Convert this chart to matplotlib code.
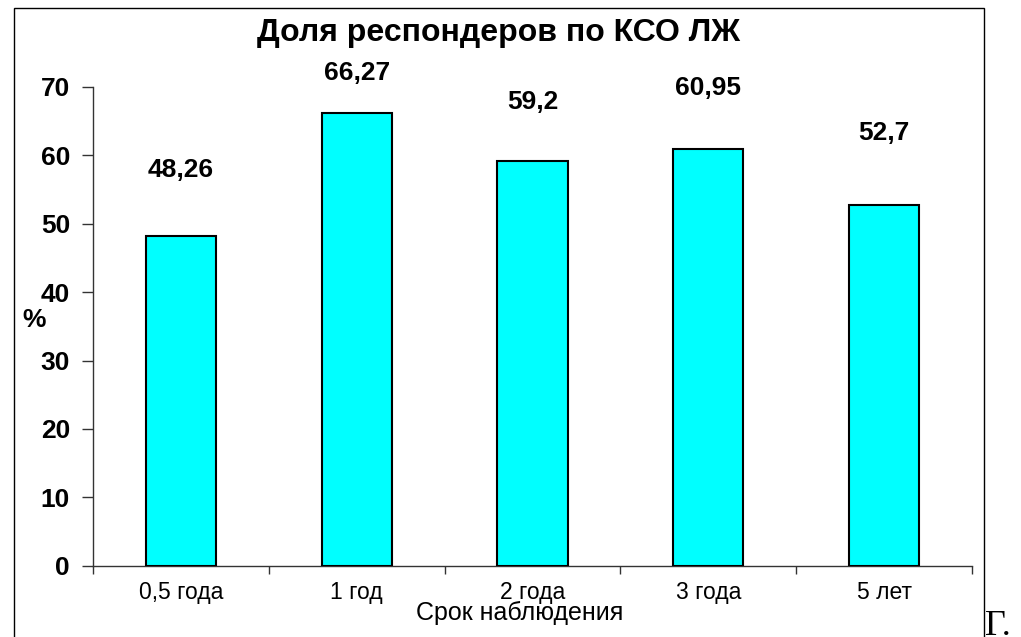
import matplotlib
matplotlib.use("Agg")
import matplotlib.pyplot as plt
from matplotlib.patches import Rectangle

plt.rcParams['font.family'] = ['Liberation Sans', 'DejaVu Sans']

# Data
categories = ["0,5 года", "1 год", "2 года", "3 года", "5 лет"]
values = [48.26, 66.27, 59.2, 60.95, 52.7]
value_labels = ["48,26", "66,27", "59,2", "60,95", "52,7"]
y_ticks = [0, 10, 20, 30, 40, 50, 60, 70]

# Label placement above each bar (in data units)
label_offsets = [9.6, 5.8, 8.6, 8.9, 10.6]

W, H = 1021, 637
fig = plt.figure(figsize=(W / 100, H / 100), dpi=100)
fig.patch.set_facecolor("white")

# Axes region in pixel terms
ax_left, ax_right, ax_top, ax_bottom = 93, 972, 87, 565.7
ax = fig.add_axes([ax_left / W, 1 - ax_bottom / H,
                   (ax_right - ax_left) / W, (ax_bottom - ax_top) / H])

x = list(range(len(categories)))
ax.bar(x, values, width=0.4, color="#00FFFF", edgecolor="black", linewidth=1.5, zorder=3)

for xi, v, lab, off in zip(x, values, value_labels, label_offsets):
    ax.text(xi, v + off, lab, ha="center", va="center", fontsize=19, fontweight="bold")

ax.set_xlim(-0.5, len(categories) - 0.5)
ax.set_ylim(0, 70)

# Y axis
ax.set_yticks(y_ticks)
ax.set_yticklabels([str(t) for t in y_ticks], fontsize=19, fontweight="bold")
ax.tick_params(axis="y", direction="out", length=8, width=1, color="#333333", pad=8.5)

# X axis: labels at centers, tick marks at category boundaries
ax.set_xticks(x)
ax.set_xticklabels(categories, fontsize=16.5)
ax.tick_params(axis="x", which="major", length=0, pad=11)
ax.set_xticks([i - 0.5 for i in range(len(categories) + 1)], minor=True)
ax.tick_params(axis="x", which="minor", direction="out", length=6, width=1, color="#333333")

for s in ["top", "right"]:
    ax.spines[s].set_visible(False)
for s in ["left", "bottom"]:
    ax.spines[s].set_color("#333333")
    ax.spines[s].set_linewidth(1)

# Titles and axis labels
fig.text(498.5 / W, 1 - 33 / H, "Доля респондеров по КСО ЛЖ", ha="center", va="center",
         fontsize=23, fontweight="bold")
fig.text(33.8 / W, 1 - 320 / H, "%", ha="center", va="center", fontsize=19, fontweight="bold")
fig.text(520 / W, 1 - 613 / H, "Срок наблюдения", ha="center", va="center", fontsize=18)

# Chart frame, open at the bottom edge
frame = Rectangle((13.5 / W, -0.05), (984 - 13.5) / W, 1.05 - 8 / H,
                  transform=fig.transFigure, fill=False, edgecolor="black",
                  linewidth=1, clip_on=False)
fig.patches.append(frame)

fig.text(985 / W, 1 - 610 / H, "Г.", ha="left", va="top", fontsize=26,
         family="Liberation Serif")

fig.savefig("out.png", dpi=100)
